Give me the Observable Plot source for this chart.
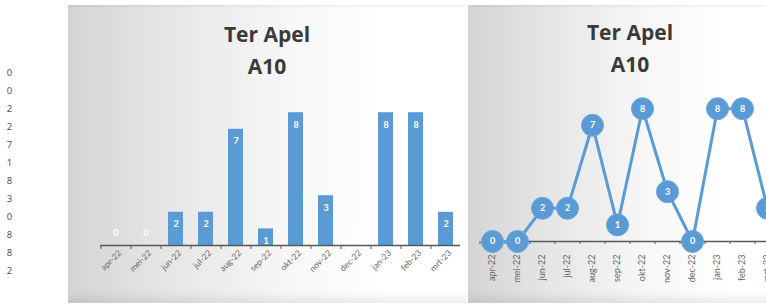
<!DOCTYPE html>
<html>
<head>
<meta charset="utf-8">
<script src="https://cdn.jsdelivr.net/npm/d3@7"></script>
<script src="https://cdn.jsdelivr.net/npm/@observablehq/plot@0.6"></script>
<style>
  html, body { margin: 0; padding: 0; background: #fff; }
  body { width: 766px; height: 307px; overflow: hidden; position: relative; font-family: Lato, "Open Sans", sans-serif; }
  .panel { position: absolute; top: 5px; height: 298px; overflow: hidden;
    background: linear-gradient(to right, #d4d4d4 0%, #e6e6e6 25%, #f7f7f7 55%, #ffffff 80%, #ffffff 100%);
    box-shadow: inset 0 -14px 10px -8px rgba(0,0,0,0.08), inset 0 2px 2px rgba(0,0,0,0.05); }
  .title { position: absolute; left: 0; right: 0; text-align: center; font-family: "Open Sans", Lato, sans-serif; font-weight: 700; font-size: 21px; color: #3a3a3a; line-height: 32px; }
  #col { position: absolute; left: 0; top: 0; }
  #p1 { left: 68px; width: 398px; }
  #p2 { left: 468px; width: 324px; }
  .panel svg { position: absolute; left: 0; top: 0; }
</style>
</head>
<body>
<div id="col"></div>
<div class="panel" id="p1"><div class="title" id="t1" style="top:13px"></div></div>
<div class="panel" id="p2"><div class="title" id="t2" style="top:11px"></div></div>
<script>
const months = ["apr-22","mei-22","jun-22","jul-22","aug-22","sep-22","okt-22","nov-22","dec-22","jan-23","feb-23","mrt-23"];
const values = [0, 0, 2, 2, 7, 1, 8, 3, 0, 8, 8, 2];
const titleLines = ["Ter Apel", "A10"];

for (const id of ["t1", "t2"]) {
  const el = document.getElementById(id);
  titleLines.forEach((t, i) => { if (i) el.appendChild(document.createElement("br")); el.appendChild(document.createTextNode(t)); });
}

const data = months.map((m, i) => ({month: m, value: values[i], idx: i}));
const blue = "#5b9bd5";
const axisColor = "#595959";

// Left column of values
const col = Plot.plot({
  width: 20, height: 307,
  margin: 0,
  x: {domain: [0, 1], axis: null},
  y: {type: "point", domain: d3.range(values.length), range: [71, 271], padding: 0, axis: null},
  style: {background: "transparent"},
  marks: [
    Plot.text(data, {x: 0.45, y: "idx", text: d => String(d.value), fontSize: 9.5, fill: "#555"})
  ]
});
document.getElementById("col").appendChild(col);

// Bar chart
const bars = Plot.plot({
  width: 398, height: 298,
  marginLeft: 32, marginRight: 6, marginTop: 74, marginBottom: 58,
  x: {domain: months, paddingInner: 0.5, paddingOuter: 0.25, label: null},
  y: {domain: [0, 10], axis: null},
  style: {background: "transparent", fontFamily: "Lato, 'Open Sans', sans-serif"},
  marks: [
    Plot.barY(data, {x: "month", y: "value", fill: blue}),
    Plot.ruleY([0], {stroke: axisColor, strokeWidth: 1.3}),
    Plot.axisX({tickSize: 4, text: null, dx: -15, stroke: axisColor}),
    Plot.axisX({tickSize: 0, tickRotate: -45, tickPadding: 6, fontSize: 8.5, fill: "#666", label: null, textAnchor: "end", dx: 4}),
    Plot.text(data.filter(d => d.value > 0), {x: "month", y: "value", text: d => String(d.value), dy: 12, fill: "white", fontSize: 9, fontWeight: "bold"}),
    Plot.text(data.filter(d => d.value === 0), {x: "month", y: "value", text: d => String(d.value), dy: -12, fill: "white", fontSize: 9, fontWeight: "bold"})
  ]
});
document.getElementById("p1").appendChild(bars);

// Line chart
const line = Plot.plot({
  width: 324, height: 298,
  marginLeft: 24, marginRight: 25, marginTop: 70, marginBottom: 62,
  x: {type: "point", domain: months, padding: 0, label: null},
  y: {domain: [0, 10], axis: null},
  style: {background: "transparent", fontFamily: "Lato, 'Open Sans', sans-serif"},
  marks: [
    Plot.ruleY([0], {stroke: axisColor, strokeWidth: 1.3}),
    Plot.axisX({tickSize: 3, text: null, dx: -12.5, stroke: axisColor}),
    Plot.axisX({tickSize: 0, tickRotate: -90, tickPadding: 13, fontSize: 9, fill: "#666", label: null}),
    Plot.line(data, {x: "month", y: "value", stroke: blue, strokeWidth: 3}),
    Plot.dot(data, {x: "month", y: "value", r: 11, fill: blue, stroke: "#6aa6dc", strokeWidth: 1}),
    Plot.text(data, {x: "month", y: "value", text: d => String(d.value), fill: "white", fontSize: 9, fontWeight: "bold"})
  ]
});
document.getElementById("p2").appendChild(line);
</script>
</body>
</html>
